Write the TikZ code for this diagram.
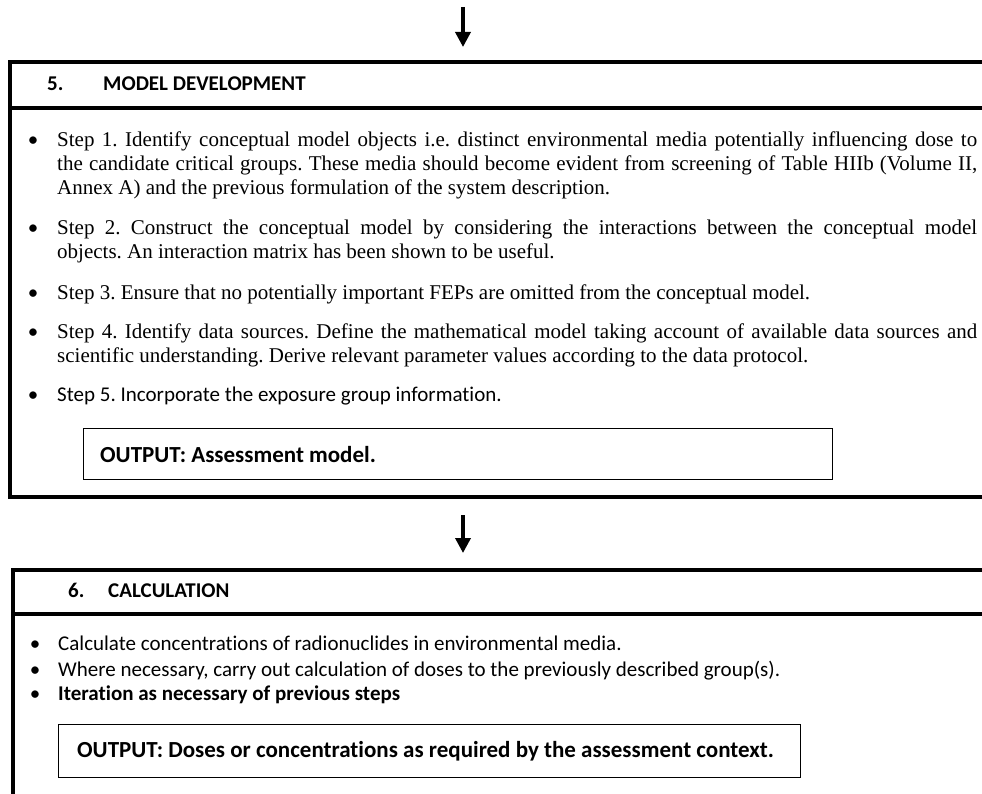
\documentclass[tikz,border=0pt]{standalone}
\usepackage{fontspec}
\setmainfont{Liberation Serif}
\newfontfamily\calib[Ligatures=NoCommon]{Carlito}
\usetikzlibrary{arrows.meta}
\frenchspacing
\begin{document}
\begin{tikzpicture}[x=1pt,y=-1pt,
  serif/.style={font=\frenchspacing\fontsize{21}{24}\selectfont, inner sep=0pt, anchor=base west},
  sans/.style={font=\frenchspacing\calib\fontsize{21}{24}\selectfont, inner sep=0pt, anchor=base west},
  hdr/.style={font=\calib\bfseries\fontsize{21}{24}\selectfont, inner sep=0pt, anchor=base west},
  outtxt/.style={font=\frenchspacing\calib\bfseries\fontsize{23}{26}\selectfont, inner sep=0pt, anchor=west},
  bulC/.style={font=\calib\fontsize{21}{24}\selectfont, inner sep=0pt, anchor=base},
  frame/.style={line width=3.5pt, line cap=butt, line join=miter},
  outbox/.style={draw, line width=1.2pt, inner sep=0pt, anchor=north west},
  flow/.style={line width=3.5pt, -{Triangle[width=15pt,length=15pt]}}]
\useasboundingbox (0,0) rectangle (982,794);
\clip (0,0) rectangle (982,794);

% ---------- arrow into box 5
\coordinate (a1s) at (463,7);
\coordinate (a1e) at (463,47);
\draw[flow] (a1s) -- (a1e);

% ---------- box 5 frame
\draw[frame] (990,62) -- (10,62) -- (10,497) -- (990,497);
\draw[frame] (10,108) -- (990,108);

\node[hdr] (h5n) at (47,91) {5.};
\node[hdr] (h5t) at (103,91) {MODEL DEVELOPMENT};

\node[bulC] (b1) at (33,147) {\textbullet};
\node[serif] (s1) at (57,147) {\parbox[t]{920pt}{\hyphenpenalty=10000 Step 1. Identify conceptual model objects i.e. distinct environmental media potentially influencing dose to\linebreak the candidate critical groups. These media should become evident from screening of Table HIIb (Volume II,\linebreak Annex A) and the previous formulation of the system description.}};

\node[bulC] (b2) at (33,235) {\textbullet};
\node[serif] (s2) at (57,235) {\parbox[t]{920pt}{\hyphenpenalty=10000 Step 2. Construct the conceptual model by considering the interactions between the conceptual model\linebreak objects. An interaction matrix has been shown to be useful.}};

\node[bulC] (b3) at (33,299) {\textbullet};
\node[serif] (s3) at (57,299) {Step 3. Ensure that no potentially important FEPs are omitted from the conceptual model.};

\node[bulC] (b4) at (33,338) {\textbullet};
\node[serif] (s4) at (57,338) {\parbox[t]{920pt}{\hyphenpenalty=10000 Step 4. Identify data sources. Define the mathematical model taking account of available data sources and\linebreak scientific understanding. Derive relevant parameter values according to the data protocol.}};

\node[bulC] (b5) at (33,401) {\textbullet};
\node[sans] (s5) at (57,401) {Step 5. Incorporate the exposure group information.};

\node[outbox, minimum width=749pt, minimum height=51pt] (ob5) at (83,428) {};
\node[outtxt] (ob5t) at ([xshift=17pt]ob5.west) {OUTPUT: Assessment model.};

% ---------- arrow into box 6
\coordinate (a2s) at (463,515);
\coordinate (a2e) at (463,553);
\draw[flow] (a2s) -- (a2e);

% ---------- box 6 frame
\draw[frame] (990,570) -- (13,570) -- (13,800);
\draw[frame] (13,614) -- (990,614);

\node[hdr] (h6n) at (68,597) {6.};
\node[hdr] (h6t) at (108,597) {CALCULATION};

\node[bulC] (c1b) at (35,650) {\textbullet};
\node[sans] (c1) at (58,650) {Calculate concentrations of radionuclides in environmental media.};
\node[bulC] (c2b) at (35,676) {\textbullet};
\node[sans] (c2) at (58,676) {Where necessary, carry out calculation of doses to the previously described group(s).};
\node[bulC] (c3b) at (35,700) {\textbullet};
\node[hdr] (c3) at (58,700) {Iteration as necessary of previous steps};

\node[outbox, minimum width=742pt, minimum height=53pt] (ob6) at (58,724) {};
\node[outtxt] (ob6t) at ([xshift=19pt]ob6.west) {OUTPUT: Doses or concentrations as required by the assessment context.};
\end{tikzpicture}
\end{document}
